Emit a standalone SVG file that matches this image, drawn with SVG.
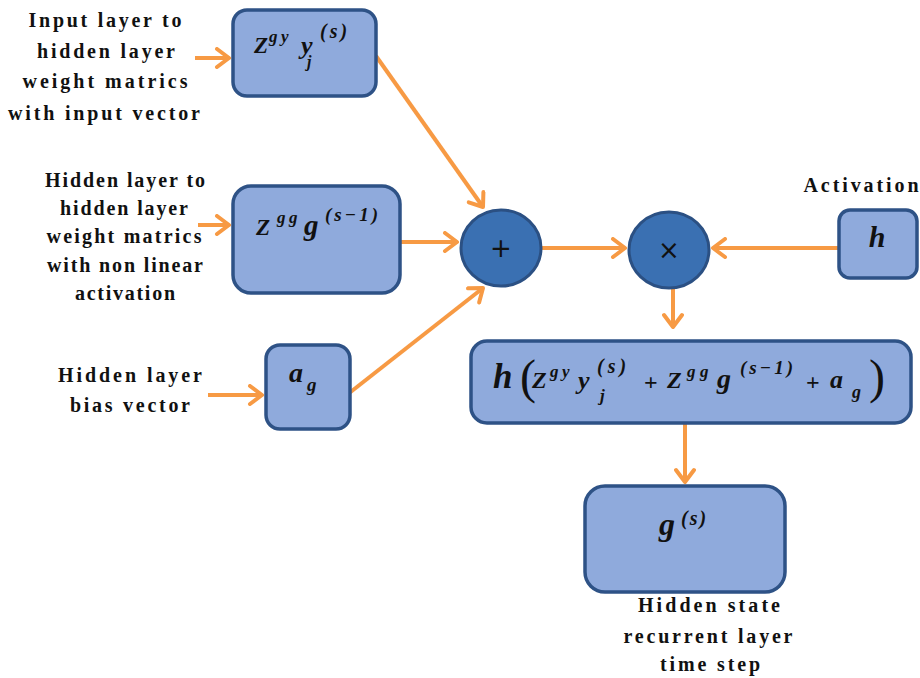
<svg xmlns="http://www.w3.org/2000/svg" width="920" height="678" viewBox="0 0 920 678">
<defs>
<marker id="ah" markerUnits="userSpaceOnUse" viewBox="-16 -11 20 22" markerWidth="20" markerHeight="22" refX="0" refY="0" orient="auto">
<path d="M-12,-9 L0,0 L-12,9" fill="none" stroke="#F79A44" stroke-width="4" stroke-linecap="round" stroke-linejoin="round"/>
</marker>
</defs>
<style>
.box{fill:#8FAADC;stroke:#2E5286;stroke-width:3.5}
.op{fill:#3A70B2;stroke:#2B5083;stroke-width:3}
.lbl{font-family:'Liberation Serif','DejaVu Serif',serif;font-weight:700;font-size:20px;fill:#111}
.m{font-family:'Liberation Serif','DejaVu Serif',serif;font-weight:700;font-style:italic;fill:#111}
.up{font-style:normal}
.par{font-style:normal;font-weight:400}
.sym{font-family:'DejaVu Sans','Liberation Sans',sans-serif;fill:#111}
.c{stroke:#F79A44;stroke-width:4;fill:none;marker-end:url(#ah)}
</style>
<rect width="920" height="678" fill="#fff"/>

<g id="label-input">
<text class="lbl" x="105" y="27" text-anchor="middle" textLength="153" lengthAdjust="spacing">Input layer to</text>
<text class="lbl" x="106" y="58" text-anchor="middle" textLength="138" lengthAdjust="spacing">hidden layer</text>
<text class="lbl" x="105" y="88" text-anchor="middle" textLength="165" lengthAdjust="spacing">weight matrics</text>
<text class="lbl" x="104" y="120" text-anchor="middle" textLength="192" lengthAdjust="spacing">with input vector</text>
</g>
<g id="label-hidden">
<text class="lbl" x="125" y="187" text-anchor="middle" textLength="160" lengthAdjust="spacing">Hidden layer to</text>
<text class="lbl" x="124" y="215" text-anchor="middle" textLength="128" lengthAdjust="spacing">hidden layer</text>
<text class="lbl" x="124" y="243" text-anchor="middle" textLength="155" lengthAdjust="spacing">weight matrics</text>
<text class="lbl" x="125" y="272" text-anchor="middle" textLength="156" lengthAdjust="spacing">with non linear</text>
<text class="lbl" x="125" y="300" text-anchor="middle" textLength="100" lengthAdjust="spacing">activation</text>
</g>
<g id="label-bias">
<text class="lbl" x="130" y="382" text-anchor="middle" textLength="144" lengthAdjust="spacing">Hidden layer</text>
<text class="lbl" x="130" y="412" text-anchor="middle" textLength="120" lengthAdjust="spacing">bias vector</text>
</g>
<g id="label-activation">
<text class="lbl" x="861" y="192" text-anchor="middle" textLength="115" lengthAdjust="spacing">Activation</text>
</g>
<g id="label-state">
<text class="lbl" x="709" y="612" text-anchor="middle" textLength="142" lengthAdjust="spacing">Hidden state</text>
<text class="lbl" x="708" y="643" text-anchor="middle" textLength="169" lengthAdjust="spacing">recurrent layer</text>
<text class="lbl" x="710" y="671" text-anchor="middle" textLength="100" lengthAdjust="spacing">time step</text>
</g>

<g id="connectors">
<line class="c" x1="195" y1="58" x2="229" y2="58"/>
<line class="c" x1="198" y1="225" x2="229" y2="225"/>
<line class="c" x1="208" y1="395" x2="262" y2="395"/>
<line class="c" x1="376" y1="56" x2="483" y2="207"/>
<line class="c" x1="400" y1="242" x2="457" y2="242"/>
<line class="c" x1="348" y1="394" x2="483" y2="288"/>
<line class="c" x1="542" y1="248" x2="625" y2="248"/>
<line class="c" x1="838" y1="248" x2="713" y2="248"/>
<line class="c" x1="673" y1="289" x2="673" y2="327"/>
<line class="c" x1="685" y1="424" x2="685" y2="482"/>
</g>

<g id="node-zgy">
<rect class="box" x="233" y="10" width="143" height="86" rx="14"/>
<text class="m" font-size="23"><tspan x="254" y="53">Z</tspan><tspan x="269" y="42" font-size="17">g</tspan><tspan x="281" y="42" font-size="17">y</tspan><tspan x="301" y="54" font-size="26">y</tspan><tspan x="307" y="67" font-size="16">j</tspan><tspan x="320" y="38" font-size="20" letter-spacing="3">(s)</tspan></text>
</g>
<g id="node-zgg">
<rect class="box" x="233" y="186" width="167" height="107" rx="18"/>
<text class="m" font-size="23"><tspan x="256" y="235">Z</tspan><tspan x="277" y="223" font-size="17">g</tspan><tspan x="289" y="223" font-size="17">g</tspan><tspan x="304" y="235" font-size="29">g</tspan><tspan x="325" y="221" font-size="19" letter-spacing="3">(s−1)</tspan></text>
</g>
<g id="node-ag">
<rect class="box" x="266" y="345" width="84" height="84" rx="14"/>
<text class="m" font-size="28"><tspan x="289" y="382">a</tspan><tspan x="307" y="391" font-size="19">g</tspan></text>
</g>
<g id="node-plus">
<ellipse class="op" cx="501" cy="248" rx="40" ry="38"/>
<text class="sym" x="501" y="257" font-size="26" text-anchor="middle">+</text>
</g>
<g id="node-times">
<ellipse class="op" cx="669" cy="250" rx="40" ry="38"/>
<text class="sym" x="669" y="259" font-size="26" text-anchor="middle">×</text>
</g>
<g id="node-h">
<rect class="box" x="839" y="210" width="78" height="68" rx="11"/>
<text class="m" x="877" y="247" font-size="30" text-anchor="middle">h</text>
</g>
<g id="node-formula">
<rect class="box" x="471" y="341" width="440" height="82" rx="16"/>
<text class="m" font-size="24"><tspan x="493" y="388" font-size="35">h</tspan><tspan class="par" x="520" y="393" font-size="48">(</tspan><tspan x="532" y="388">Z</tspan><tspan x="550" y="377" font-size="17">g</tspan><tspan x="562" y="377" font-size="17">y</tspan><tspan x="578" y="389" font-size="26">y</tspan><tspan x="600" y="401" font-size="17">j</tspan><tspan x="597" y="373" font-size="20" letter-spacing="4">(s)</tspan><tspan class="up" x="644" y="390">+</tspan><tspan x="667" y="388">Z</tspan><tspan x="687" y="377" font-size="17">g</tspan><tspan x="700" y="377" font-size="17">g</tspan><tspan x="717" y="388" font-size="28">g</tspan><tspan x="740" y="374" font-size="19" letter-spacing="3">(s−1)</tspan><tspan class="up" x="806" y="390">+</tspan><tspan x="830" y="388" font-size="26">a</tspan><tspan x="852" y="398" font-size="18">g</tspan><tspan class="par" x="869" y="393" font-size="48">)</tspan></text>
</g>
<g id="node-gs">
<rect class="box" x="585" y="486" width="200" height="106" rx="20"/>
<text class="m" font-size="32"><tspan x="659" y="535">g</tspan><tspan x="681" y="525" font-size="20" letter-spacing="2">(s)</tspan></text>
</g>
</svg>
